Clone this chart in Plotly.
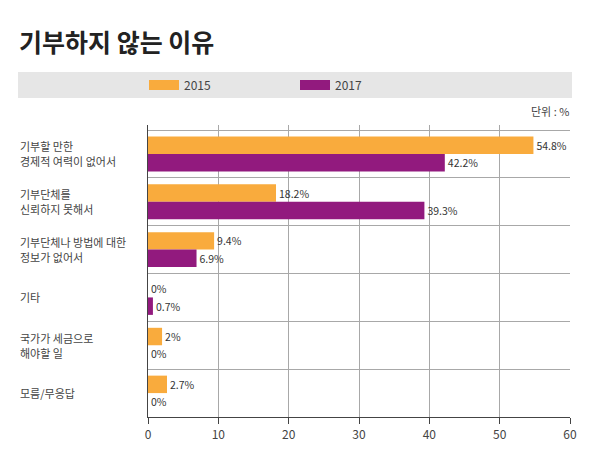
import plotly.graph_objects as go

title = "기부하지 않는 이유"
unit_label = "단위 : %"
categories = ["기부할 만한<br>경제적 여력이 없어서",
              "기부단체를<br>신뢰하지 못해서",
              "기부단체나 방법에 대한<br>정보가 없어서",
              "기타",
              "국가가 세금으로<br>해야할 일",
              "모름/무응답"]
series_names = ["2015", "2017"]
values_2015 = [54.8, 18.2, 9.4, 0, 2, 2.7]
values_2017 = [42.2, 39.3, 6.9, 0.7, 0, 0]
x_ticks = [0, 10, 20, 30, 40, 50, 60]

colors = ["#F9AB3D", "#921A7E"]
FONT = "Noto Sans CJK KR"

OFF = 8  # page body margin
W, H = 606, 464
L, R, T, B = 148 - OFF, 36 + OFF, 125 - OFF, 47 + OFF
pw, ph = W - L - R, H - T - B

def px_x(p):
    return (p - OFF - L) / pw

def px_y(p):
    return (H - B - (p - OFF)) / ph

fig = go.Figure()
ypos = list(range(len(categories)))
for name, vals, c in zip(series_names, [values_2015, values_2017], colors):
    fig.add_trace(go.Bar(
        y=ypos, x=vals, orientation="h", name=name, marker_color=c,
        marker_line_width=0, showlegend=False,
        text=[f"{v:g}%" for v in vals], textposition="outside",
        textfont=dict(family=FONT, size=10.5, color="#333"), cliponaxis=False,
    ))
    fig.add_trace(go.Scatter(
        x=[None], y=[None], mode="lines", name=name,
        line=dict(color=c, width=10), showlegend=True,
    ))

fig.update_layout(
    width=W, height=H, margin=dict(l=L, r=R, t=T, b=B),
    paper_bgcolor="white", plot_bgcolor="white",
    barmode="group", bargap=0.27, bargroupgap=0,
    font=dict(family=FONT, color="#444"),
    legend=dict(orientation="h", x=px_x(144), y=px_y(85), xanchor="left",
                yanchor="middle", bgcolor="rgba(0,0,0,0)",
                font=dict(family=FONT, size=12, color="#444"),
                entrywidth=106, entrywidthmode="pixels"),
    xaxis=dict(range=[0, 60], tickvals=x_ticks, showgrid=True,
               gridcolor="#A8A8A8", gridwidth=1, zeroline=False,
               showline=True, linecolor="#444", linewidth=1.2,
               ticks="outside", ticklen=6, tickcolor="#444",
               tickfont=dict(family=FONT, size=12, color="#444")),
    yaxis=dict(type="linear", range=[5.5, -0.605], tickvals=[-0.5 + i for i in range(7)],
               showticklabels=False, showgrid=True, gridcolor="#A8A8A8",
               gridwidth=1, zeroline=False, showline=True, linecolor="#444",
               linewidth=1.2, ticks=""),
)

fig.add_shape(type="rect", xref="paper", yref="paper",
              x0=px_x(18), x1=px_x(572), y0=px_y(98), y1=px_y(72),
              fillcolor="#E6E6E6", line_width=0, layer="below")

fig.add_annotation(text=f"<b>{title}</b>", xref="paper", yref="paper",
                   x=px_x(17), y=px_y(41), xanchor="left", yanchor="middle",
                   showarrow=False, font=dict(family=FONT, size=25, color="#222"))
fig.add_annotation(text=unit_label, xref="paper", yref="paper",
                   x=px_x(571), y=px_y(111), xanchor="right", yanchor="middle",
                   showarrow=False, font=dict(family=FONT, size=11, color="#444"))
LINE = 15
for i, cat in enumerate(categories):
    lines = cat.split("<br>")
    n = len(lines)
    for k, line in enumerate(lines):
        fig.add_annotation(text=line, xref="paper", yref="y", x=px_x(18), y=i,
                           xanchor="left", yanchor="middle", align="left",
                           yshift=((n - 1) / 2 - k) * LINE, showarrow=False,
                           font=dict(family=FONT, size=11, color="#444"))

fig.write_html("out.html")
